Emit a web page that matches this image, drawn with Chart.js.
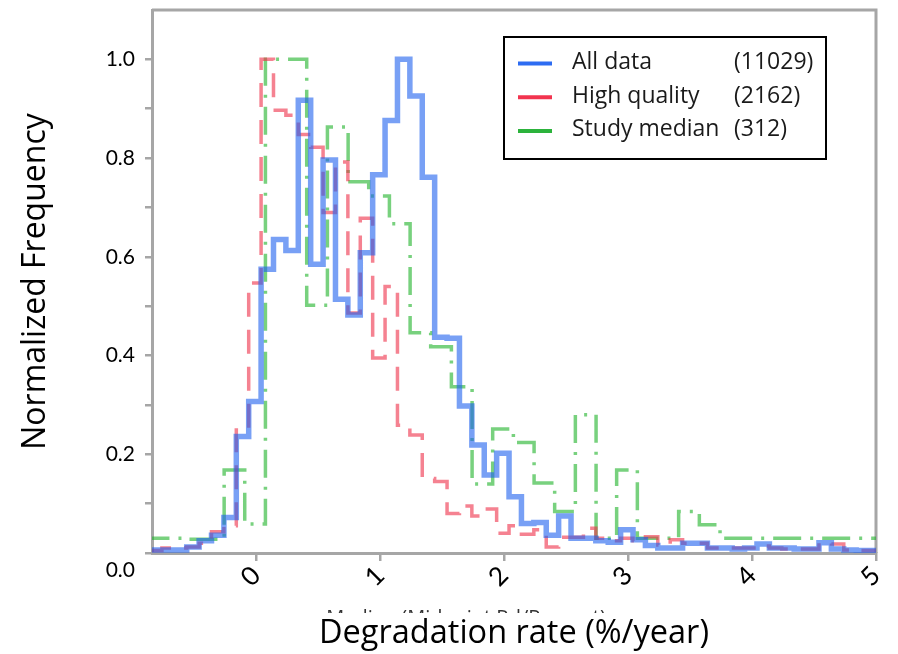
<!DOCTYPE html>
<html>
<head>
<meta charset="utf-8">
<script src="https://cdn.jsdelivr.net/npm/chart.js@4/dist/chart.umd.min.js"></script>
<style>
  html, body { margin: 0; padding: 0; background: #fff; }
  #wrap { width: 898px; height: 654px; position: relative; }
</style>
</head>
<body>
<div id="wrap"><canvas id="c" width="898" height="654"></canvas></div>
<script>
// Histogram bin edges (%/year) for the 0.1-wide bins
const fineBinEdges = [-0.86, -0.76, -0.66, -0.56, -0.46, -0.36, -0.26, -0.16, -0.06, 0.04,
  0.14, 0.24, 0.34, 0.44, 0.54, 0.64, 0.74, 0.84, 0.94, 1.04,
  1.14, 1.24, 1.34, 1.44, 1.54, 1.64, 1.74, 1.84, 1.94, 2.04,
  2.14, 2.24, 2.34, 2.44, 2.54, 2.64, 2.74, 2.84, 2.94, 3.04,
  3.14, 3.24, 3.34, 3.44, 3.54, 3.64, 3.74, 3.84, 3.94, 4.04,
  4.14, 4.24, 4.34, 4.44, 4.54, 4.64, 4.74, 4.84, 4.94, 5.04];

// Normalized frequency per fine bin
const allDataFreq = [0.006, 0.006, 0.006, 0.012, 0.025, 0.036, 0.072, 0.236, 0.307,
  0.575, 0.635, 0.613, 0.917, 0.585, 0.796, 0.514, 0.482, 0.608, 0.766,
  0.876, 1.0, 0.926, 0.761, 0.437, 0.435, 0.298, 0.219, 0.158, 0.202,
  0.114, 0.06, 0.062, 0.036, 0.075, 0.03, 0.03, 0.025, 0.022, 0.047,
  0.027, 0.015, 0.01, 0.01, 0.02, 0.02, 0.01, 0.01, 0.008, 0.01,
  0.018, 0.01, 0.01, 0.008, 0.008, 0.021, 0.008, 0.006, 0.005, 0.005];

const highQualityFreq = [0.005, 0.01, 0.01, 0.012, 0.02, 0.043, 0.055, 0.249, 0.547,
  1.0, 0.897, 0.887, 0.848, 0.822, 0.69, 0.792, 0.486, 0.678, 0.395,
  0.54, 0.259, 0.239, 0.151, 0.145, 0.08, 0.095, 0.075, 0.089, 0.04,
  0.055, 0.038, 0.047, 0.012, 0.032, 0.032, 0.05, 0.03, 0.025, 0.03,
  0.025, 0.033, 0.016, 0.027, 0.02, 0.02, 0.01, 0.01, 0.01, 0.01,
  0.014, 0.01, 0.008, 0.008, 0.008, 0.02, 0.018, 0.006, 0.005, 0.005];

// Study medians use wider bins
const coarseBinEdges = [-0.925, -0.758, -0.592, -0.425, -0.258, -0.092, 0.075, 0.242, 0.408, 0.575,
  0.742, 0.908, 1.075, 1.242, 1.408, 1.575, 1.742, 1.908, 2.075, 2.242,
  2.408, 2.575, 2.742, 2.908, 3.075, 3.242, 3.408, 3.575, 3.742, 3.908,
  4.075, 4.242, 4.408, 4.575, 4.742, 4.908, 5.075];

const studyMedianFreq = [0.03, 0.03, 0.028, 0.028, 0.168, 0.059, 1.0, 1.0, 0.502, 0.863,
  0.752, 0.723, 0.667, 0.446, 0.418, 0.337, 0.14, 0.251, 0.224, 0.142,
  0.084, 0.28, 0.03, 0.168, 0.03, 0.03, 0.084, 0.057, 0.03, 0.03,
  0.03, 0.03, 0.03, 0.03, 0.03, 0.03];

const seriesNames = ['All data', 'High quality', 'Study median'];
const seriesCounts = ['(11029)', '(2162)', '(312)'];

const xTickValues = [0, 1, 2, 3, 4, 5];
const yTickValues = [0, 0.1, 0.2, 0.3, 0.4, 0.5, 0.6, 0.7, 0.8, 0.9, 1.0];
const yTickLabels = ['0.0', '', '0.2', '', '0.4', '', '0.6', '', '0.8', '', '1.0'];

const xTitle = 'Degradation rate (%/year)';
const yTitle = 'Normalized Frequency';
const hiddenCaption = 'Median (Midpoint Rd/Percent)';

// Step outline: one point per bin edge, last value repeated to close the final bin
function stepPoints(edges, values) {
  return edges.map((x, i) => ({ x: x, y: values[Math.min(i, values.length - 1)] }));
}

const lineColors = ['rgba(30,97,238,0.6)', 'rgba(238,47,72,0.6)', 'rgba(30,178,40,0.6)'];
const legendColors = ['#2d6cf2', '#f2344f', '#2cb33c'];
const AXIS_GRAY = '#a6a6a6';
const TEXT_FONT = '"Open Sans"';

const frameAndLegend = {
  id: 'frameAndLegend',
  beforeDatasetsDraw(chart) {
    const ctx = chart.ctx;
    const a = chart.chartArea;
    ctx.save();
    ctx.strokeStyle = AXIS_GRAY;
    ctx.lineWidth = 3;
    ctx.beginPath();
    ctx.moveTo(a.left, a.top);
    ctx.lineTo(a.right, a.top);
    ctx.lineTo(a.right, a.bottom);
    ctx.stroke();
    ctx.restore();
  },
  afterDraw(chart) {
    const ctx = chart.ctx;
    ctx.save();
    // legend box
    ctx.fillStyle = '#fff';
    ctx.fillRect(504, 37, 322, 122);
    ctx.strokeStyle = '#000';
    ctx.lineWidth = 2;
    ctx.strokeRect(504, 37, 322, 122);
    ctx.font = '23px ' + TEXT_FONT;
    ctx.textBaseline = 'middle';
    ctx.textAlign = 'left';
    for (let i = 0; i < seriesNames.length; i++) {
      const y = 63.5 + i * 33.7;
      ctx.strokeStyle = legendColors[i];
      ctx.lineWidth = 4;
      ctx.beginPath();
      ctx.moveTo(518, y);
      ctx.lineTo(552, y);
      ctx.stroke();
      ctx.fillStyle = '#1a1a1a';
      ctx.fillText(seriesNames[i], 572, y - 1);
      ctx.fillText(seriesCounts[i], 734, y - 1);
    }
    // zero label sits below the axis corner
    const ys = chart.scales.y;
    ctx.font = '21px Lato';
    ctx.textAlign = 'right';
    ctx.fillStyle = '#000';
    ctx.fillText(yTickLabels[0], 135, ys.getPixelForValue(yTickValues[0]) + 17);
    // axis caption partly covered by the title band
    ctx.beginPath();
    ctx.rect(0, 600, chart.width, 13);
    ctx.clip();
    ctx.font = '20px ' + TEXT_FONT;
    ctx.textAlign = 'center';
    ctx.textBaseline = 'alphabetic';
    ctx.fillStyle = '#333';
    ctx.fillText(hiddenCaption, 466, 623.5);
    ctx.restore();
  }
};

const ctx = document.getElementById('c').getContext('2d');
new Chart(ctx, {
  type: 'line',
  data: {
    datasets: [
      { label: seriesNames[0], data: stepPoints(fineBinEdges, allDataFreq), borderColor: lineColors[0],
        borderWidth: 5.5, stepped: true, pointRadius: 0, fill: false, order: 1,
        borderJoinStyle: 'miter', borderCapStyle: 'butt' },
      { label: seriesNames[1], data: stepPoints(fineBinEdges, highQualityFreq), borderColor: lineColors[1],
        borderWidth: 3.5, stepped: true, pointRadius: 0, fill: false, borderDash: [24, 13], order: 2,
        borderJoinStyle: 'miter', borderCapStyle: 'butt' },
      { label: seriesNames[2], data: stepPoints(coarseBinEdges, studyMedianFreq), borderColor: lineColors[2],
        borderWidth: 3.5, stepped: true, pointRadius: 0, fill: false, borderDash: [28, 9, 3, 9], order: 3,
        borderJoinStyle: 'miter', borderCapStyle: 'butt' }
    ]
  },
  options: {
    responsive: false,
    animation: false,
    devicePixelRatio: 1,
    layout: { padding: { top: 10, right: 22, left: 0, bottom: 0 } },
    plugins: { legend: { display: false }, tooltip: { enabled: false } },
    scales: {
      x: {
        type: 'linear',
        min: -0.84,
        max: 5,
        afterFit(s) { s.height = 101; s.paddingLeft = 0; s.paddingRight = 0; },
        afterBuildTicks(s) { s.ticks = xTickValues.map(v => ({ value: v })); },
        grid: { display: true, drawOnChartArea: false, drawTicks: true, tickLength: 8, color: AXIS_GRAY, lineWidth: 2.5 },
        border: { display: true, color: AXIS_GRAY, width: 3 },
        ticks: { color: '#000', font: { family: 'Lato', size: 26, weight: '400' }, minRotation: 45, maxRotation: 45, padding: -1,
                 callback: v => String(v) },
        title: { display: true, text: xTitle, color: '#000', font: { family: 'Open Sans', size: 32.5 }, padding: { bottom: 0.5, top: 0 } }
      },
      y: {
        type: 'linear',
        min: 0,
        max: 1.1,
        afterFit(s) { s.width = 152; s.paddingTop = 0; s.paddingBottom = 0; },
        afterBuildTicks(s) { s.ticks = yTickValues.map(v => ({ value: v })); },
        grid: { display: true, drawOnChartArea: false, drawTicks: true, tickLength: 7, color: AXIS_GRAY, lineWidth: 2.5 },
        border: { display: true, color: AXIS_GRAY, width: 3 },
        ticks: { color: '#000', font: { family: 'Lato', size: 21 }, padding: 10,
                 callback: (v, i) => (i === 0 ? '' : yTickLabels[i]) },
        title: { display: true, text: yTitle, color: '#000', font: { family: 'Open Sans', size: 32 }, padding: { top: 16.8, bottom: 0 } }
      }
    }
  },
  plugins: [frameAndLegend]
});
</script>
</body>
</html>
